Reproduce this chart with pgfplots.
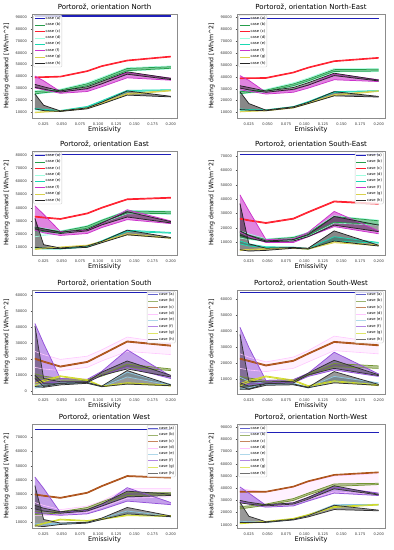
\documentclass[border=0pt]{standalone}
\usepackage{pgfplots}
\pgfplotsset{compat=1.18}
\usepackage{pgfplotstable}
\usepgfplotslibrary{fillbetween}
\usepackage{fontspec}
\setmainfont{DejaVu Sans}

\definecolor{ca}{rgb}{0.12,0.12,0.72}
\definecolor{cb}{rgb}{0.15,0.62,0.30}
\definecolor{cc}{rgb}{1.0,0.12,0.18}
\definecolor{cd}{rgb}{0.62,1.0,0.88}
\definecolor{ce}{rgb}{0.10,0.85,0.70}
\definecolor{cf}{rgb}{0.80,0.20,0.80}
\definecolor{cg}{rgb}{0.85,0.82,0.30}
\definecolor{chh}{rgb}{0.15,0.15,0.15}
\definecolor{Bb}{rgb}{0.45,0.58,0.20}
\definecolor{Bc}{rgb}{0.68,0.32,0.10}
\definecolor{Bd}{rgb}{1.0,0.78,1.0}
\definecolor{Be}{rgb}{0.55,0.78,0.88}
\definecolor{Bf}{rgb}{0.58,0.32,0.85}
\definecolor{Bg}{rgb}{0.82,0.86,0.15}
\definecolor{Bh}{rgb}{0.2,0.2,0.2}

% columns: x a cl ch bl bh dl dh fl fh hl hh el eh gl gh kl kh
\pgfplotstableread{
x a cl ch bl bh dl dh fl fh hl hh el eh gl gh kl kh
0.013 90800 39000 39600 25500 27500 25000 28500 30500 40500 31000 33500 12300 13300 9700 10200 13000 25500
0.025 90800 39300 39900 26500 28000 26000 28500 29000 36500 29500 31500 11800 12600 10200 10600 11500 16000
0.048 90800 39700 40300 27800 28800 27500 29500 26000 27500 27000 28000 11000 11600 10900 11300 10800 11200
0.085 90800 44300 44900 32500 34000 32000 35000 27500 29500 30000 31500 14300 15000 13300 13800 13000 13800
0.105 90800 48500 49100 37000 38500 36500 39500 31500 34000 34000 36000 19000 19800 17500 18000 17000 18500
0.14  90800 53200 53800 45000 46800 44500 47500 39000 43500 42000 44000 27500 28500 25000 25800 24500 28000
0.2   90800 56500 57100 47000 48300 46500 49000 37000 38700 37500 38500 28300 29000 28000 28600 23000 23500
}\TN
\pgfplotstableread{
x a cl ch bl bh dl dh fl fh hl hh el eh gl gh kl kh
0.013 89000 38400 39000 25800 27500 25300 28500 29000 41000 30500 32500 12000 13000 10500 11000 12500 27500
0.025 89000 38500 39100 26800 28000 26300 28500 28000 37000 29000 31000 11900 12500 10900 11300 12000 17500
0.048 89000 38700 39300 27800 28800 27300 29500 25500 27000 27000 28000 11800 12300 11400 11800 11500 12000
0.085 89000 43300 43900 32500 34000 32000 35000 27000 29000 29500 31000 14300 15000 13800 14300 14000 14800
0.105 89000 47400 48000 36500 38000 36000 39000 30500 33000 33000 35000 18500 19200 17500 18000 17500 18500
0.14  89000 52800 53400 44500 46000 44000 47000 37500 42500 41000 43000 26800 27500 24200 25000 24000 27500
0.2   89000 55600 56200 44800 46300 44300 47000 36000 37500 36500 37200 27800 28400 27700 28300 23000 23500
}\TNE
\pgfplotstableread{
x a cl ch bl bh dl dh fl fh hl hh el eh gl gh kl kh
0.013 80500 33000 33600 22500 25000 18000 25500 23000 41500 24000 25500 9000 10000 8300 8800 10000 32000
0.025 80500 32300 32900 22000 24000 19000 24500 21000 35000 22500 24000 8800 9500 9000 9500 9500 12000
0.048 80500 31200 31800 21000 22000 20500 22500 19000 22000 20500 21500 8700 9200 9800 10300 9000 9500
0.085 80500 35400 36000 24500 26000 24000 26500 20500 23000 22500 23500 10300 10800 11200 11700 10000 11000
0.105 80500 39700 40300 29000 30500 28500 31000 25000 28000 27000 28500 14500 15000 14000 14500 13500 14500
0.14  80500 46100 46700 36000 37500 35500 38000 31000 38500 33000 37000 22000 23000 19500 20300 19500 23000
0.2   80500 47300 47900 35500 37000 35000 37500 28000 30000 28500 29500 20700 21300 16800 17300 17000 17500
}\TE
\pgfplotstableread{
x a cl ch bl bh dl dh fl fh hl hh el eh gl gh kl kh
0.013 70700 26200 26800 14000 17000 13000 18000 17000 43000 15000 18000 9000 11000 4300 4800 5000 37000
0.025 70700 25000 25600 12500 15000 12000 16000 14000 32000 13000 15000 7500 9000 4800 5200 4000 9000
0.048 70700 23200 23800 11000 12000 10500 12500 10000 12000 10500 11000 6500 7000 5300 5800 4500 6000
0.085 70700 26200 26800 12000 13500 11500 14000 10000 12500 11000 12000 6300 6800 5800 6200 6000 6500
0.105 70700 30700 31300 15000 16500 14500 17000 14000 17000 14000 15500 5300 5800 5300 5700 5500 6000
0.14  70700 38100 38700 24000 28000 23500 28500 21000 31500 22000 28000 11000 14000 9800 10500 11000 18000
0.2   70700 36500 37100 22500 25000 22000 25500 16000 18000 17500 22000 9500 10000 7800 8200 7500 8000
}\TSE
\pgfplotstableread{
x a cl ch bl bh dl dh fl fh hl hh el eh gl gh kl kh
0.013 62000 20100 20700 9000 11000 15000 25000 5000 42500 8000 41000 2000 4000 3500 5000 3000 10000
0.025 62000 18300 18900 8000 9500 14000 23000 5000 30000 3000 8000 3000 4500 6000 7000 2500 5000
0.048 62000 15200 15800 7000 8000 13000 20000 6000 8000 5000 6000 4800 5300 9200 9700 4000 5000
0.085 62000 18100 18700 6800 7300 15000 22000 6000 7500 5500 6000 5300 5800 6800 7300 5000 5500
0.105 62000 22700 23300 9500 10500 19000 26000 10000 12500 10000 12000 2800 3200 2800 3300 2900 3200
0.14  62000 30900 31500 15000 17000 25000 34000 15000 26000 14000 19000 9000 12000 4800 5400 4500 13000
0.2   62000 28300 28900 13000 14000 23000 30000 8000 9500 9000 10000 3800 4300 3300 3800 3500 4000
}\TS
\pgfplotstableread{
x a cl ch bl bh dl dh fl fh hl hh el eh gl gh kl kh
0.013 64200 22700 23300 10000 12000 17000 26000 8000 42500 6000 38000 4000 11500 6000 7500 4000 8000
0.025 64200 21300 21900 9500 11000 16000 24000 7000 30000 4000 9000 5000 9000 8500 9500 4000 6000
0.048 64200 18500 19100 8500 9500 15000 21000 8000 9500 7500 8500 7200 7800 11700 12300 6500 7500
0.085 64200 21400 22000 9000 10000 17000 24000 8000 10000 8000 9000 7200 7800 9200 9800 6800 7300
0.105 64200 25800 26400 12500 13500 21000 28000 12000 14000 13000 14000 4800 5300 5700 6300 5000 5300
0.14  64200 33100 33700 18000 20000 28000 37000 16000 27000 17000 22000 9000 12000 8700 9300 8000 15000
0.2   64200 31000 31600 17000 18500 26000 33000 12000 13500 12500 13000 7000 8000 6200 6800 6500 7000
}\TSW
\pgfplotstableread{
x a cl ch bl bh dl dh fl fh hl hh el eh gl gh kl kh
0.013 75900 29400 30000 15500 17500 15000 24000 17000 42000 19500 22000 8000 9000 7300 7800 7500 36000
0.025 75900 28500 29100 16000 17500 15000 22000 16000 34000 18000 20000 8200 9000 9000 9500 7000 12000
0.048 75900 27000 27600 16500 17500 15000 19000 15000 17000 16500 17500 8700 9300 11700 12300 8500 9500
0.085 75900 30600 31200 19000 20500 17000 21500 16000 18500 18000 19000 9800 10300 10800 11300 9500 10000
0.105 75900 35300 35900 23000 24500 20500 25000 19000 22000 21500 23000 12000 12800 12000 12500 12000 13000
0.14  75900 42400 43000 29000 31000 27000 34000 25000 34500 28000 32000 16000 18000 14700 15300 16000 20500
0.2   75900 41300 41900 29500 31000 28000 34000 22500 24000 29000 30000 13800 14300 14200 14800 14000 14500
}\TW
\pgfplotstableread{
x a cl ch bl bh dl dh fl fh hl hh el eh gl gh kl kh
0.013 85600 36800 37400 23000 25000 28000 40000 29000 41000 28000 30000 12000 13000 10800 11300 12000 28500
0.025 85600 36800 37400 24000 25500 27000 38500 27000 36000 27000 28500 11900 12500 11400 11900 12000 17000
0.048 85600 36800 37400 26000 27000 25000 37000 24500 26000 25500 26500 11800 12300 12300 12800 12000 12500
0.085 85600 41000 41600 30000 31500 27000 41000 25500 28000 27000 28000 14300 14800 14800 15300 14000 14500
0.105 85600 45400 46000 34500 36000 31000 45000 29500 32500 31000 32500 17500 18200 18000 18500 16500 17500
0.14  85600 50600 51200 41500 43500 37000 50000 36000 41000 39500 42000 25700 26500 24200 25000 22500 26000
0.2   85600 52700 53300 43000 44000 35000 52000 34000 36000 34500 35000 26200 26800 26200 26800 21500 22000
}\TNW

\newcommand\band[6]{%
  \addplot[draw=#4, line width=#6, name path=lo#2, forget plot] table[x=x,y=#2]{#1};
  \addplot[draw=#4, line width=#6, name path=hi#2, forget plot] table[x=x,y=#3]{#1};
  \addplot[fill=#4, fill opacity=#5, draw=none, forget plot] fill between[of=lo#2 and hi#2];
}
\newcommand\bodyT[1]{%
  \band{#1}{dl}{dh}{cd}{0.35}{0.6pt}
  \band{#1}{bl}{bh}{cb}{0.5}{0.75pt}
  \band{#1}{cl}{ch}{cc}{0.6}{0.9pt}
  \band{#1}{el}{eh}{ce}{0.5}{0.75pt}
  \band{#1}{fl}{fh}{cf}{0.6}{0.75pt}
  \band{#1}{gl}{gh}{cg}{0.5}{0.75pt}
  \band{#1}{kl}{kh}{chh}{0.55}{0.75pt}
  \band{#1}{hl}{hh}{chh}{0.45}{0.75pt}
  \addplot[ca,line width=1.1pt,forget plot] table[x=x,y=a]{#1};
  \addlegendimage{ca,line width=0.7pt}
  \addlegendimage{cb,line width=0.7pt}
  \addlegendimage{cc,line width=0.7pt}
  \addlegendimage{cd,line width=0.7pt}
  \addlegendimage{ce,line width=0.7pt}
  \addlegendimage{cf,line width=0.7pt}
  \addlegendimage{cg,line width=0.7pt}
  \addlegendimage{chh,line width=0.7pt}
  \legend{case (a),case (b),case (c),case (d),case (e),case (f),case (g),case (h)}
}
\newcommand\bodyB[1]{%
  \band{#1}{dl}{dh}{Bd}{0.25}{0.6pt}
  \band{#1}{bl}{bh}{Bb}{0.5}{0.75pt}
  \band{#1}{cl}{ch}{Bc}{0.6}{0.9pt}
  \band{#1}{el}{eh}{Be}{0.5}{0.75pt}
  \band{#1}{fl}{fh}{Bf}{0.55}{0.75pt}
  \band{#1}{gl}{gh}{Bg}{0.5}{0.75pt}
  \band{#1}{kl}{kh}{Bh}{0.5}{0.75pt}
  \band{#1}{hl}{hh}{Bh}{0.45}{0.75pt}
  \addplot[ca,line width=1.1pt,forget plot] table[x=x,y=a]{#1};
  \addlegendimage{ca!70,line width=0.7pt}
  \addlegendimage{Bb!70,line width=0.7pt}
  \addlegendimage{Bc!70,line width=0.7pt}
  \addlegendimage{Bd,line width=0.7pt}
  \addlegendimage{Be!70,line width=0.7pt}
  \addlegendimage{Bf!70,line width=0.7pt}
  \addlegendimage{Bg!70,line width=0.7pt}
  \addlegendimage{Bh!70,line width=0.7pt}
  \legend{case (a),case (b),case (c),case (d),case (e),case (f),case (g),case (h)}
}

\pgfplotsset{
  panel/.style={
    scale only axis, height=104pt,
    xmin=0.009, xmax=0.2085,
    xtick={0.025,0.05,0.075,0.1,0.125,0.15,0.175,0.2},
    scaled x ticks=false, scaled y ticks=false,
    xticklabel style={/pgf/number format/fixed,/pgf/number format/fixed zerofill,/pgf/number format/precision=3},
    yticklabel style={/pgf/number format/fixed,/pgf/number format/1000 sep={}},
    /pgf/number format/assume math mode=true,
    tick label style={font=\fontsize{3.6}{4}\selectfont, text=black!80},
    ytick distance=10000,
    tick align=outside, xtick pos=left, ytick pos=left,
    major tick length=1.5pt, tick style={black!70, line width=0.3pt},
    axis line style={black!45, line width=0.4pt},
    xlabel={Emissivity}, ylabel={Heating demand [Wh/m\textasciicircum 2]},
    xlabel style={font=\fontsize{6.5}{7}\selectfont, yshift=6pt},
    ylabel style={font=\fontsize{6.2}{7}\selectfont, yshift=-1pt},
    title style={font=\fontsize{7}{8}\selectfont, yshift=-5.5pt},
    legend cell align=left,
    legend style={font=\fontsize{3.7}{4.2}\selectfont, draw=black!20, fill=white, fill opacity=0.8, text opacity=1,
      rounded corners=1pt, inner sep=0.8pt, row sep=1.1pt, nodes={inner sep=0.5pt}},
    legend image code/.code={\draw[##1] (0pt,0pt) -- (10pt,0pt);},
    clip=true,
  },
  legNW/.style={legend style={at={(0.01,0.99)}, anchor=north west}},
  legNE/.style={legend style={at={(0.99,0.99)}, anchor=north east}},
}

\begin{document}
\begin{tikzpicture}
\begin{axis}[panel, legNW, at={(32pt,432pt)}, anchor=south west, width=145pt, ymin=5300, ymax=92500,
  title={Portorož, orientation North}]
\bodyT{\TN}
\end{axis}
\begin{axis}[panel, legNW, at={(237pt,432pt)}, anchor=south west, width=148pt, ymin=5400, ymax=92700,
  title={Portorož, orientation North-East}]
\bodyT{\TNE}
\end{axis}
\begin{axis}[panel, legNW, at={(32pt,295pt)}, anchor=south west, width=145pt, ymin=4200, ymax=83000,
  title={Portorož, orientation East}]
\bodyT{\TE}
\end{axis}
\begin{axis}[panel, legNE, at={(237pt,295pt)}, anchor=south west, width=148pt, ymin=1300, ymax=73400,
  title={Portorož, orientation South-East}]
\bodyT{\TSE}
\end{axis}
\begin{axis}[panel, legNE, at={(32pt,156pt)}, anchor=south west, width=145pt, ymin=-1700, ymax=63500,
  title={Portorož, orientation South}]
\bodyB{\TS}
\end{axis}
\begin{axis}[panel, legNE, at={(237pt,156pt)}, anchor=south west, width=148pt, ymin=1100, ymax=65600,
  title={Portorož, orientation South-West}]
\bodyB{\TSW}
\end{axis}
\begin{axis}[panel, legNE, at={(32pt,22pt)}, anchor=south west, width=145pt, ymin=6000, ymax=79500,
  title={Portorož, orientation West}]
\bodyB{\TW}
\end{axis}
\begin{axis}[panel, legNW, at={(237pt,22pt)}, anchor=south west, width=148pt, ymin=7400, ymax=92600,
  title={Portorož, orientation North-West}]
\bodyB{\TNW}
\end{axis}
\pgfresetboundingbox
\path[use as bounding box] (0pt,0pt) rectangle (394pt,550pt);
\end{tikzpicture}
\end{document}
